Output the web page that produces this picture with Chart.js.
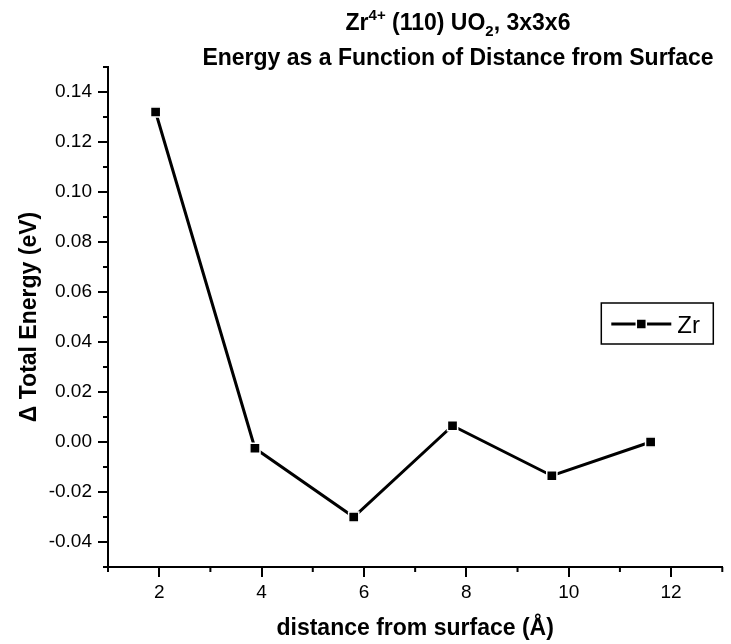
<!DOCTYPE html>
<html>
<head>
<meta charset="utf-8">
<title>Zr4+ (110) UO2 energy vs distance</title>
<script src="https://cdn.jsdelivr.net/npm/chart.js@4.4.1/dist/chart.umd.min.js"></script>
<style>
  html, body { margin: 0; padding: 0; background: #ffffff; }
  #wrap { width: 731px; height: 644px; }
</style>
</head>
<body>
<div id="wrap"><canvas id="energyChart" width="731" height="644"></canvas></div>
<script>
// data
const distances = [1.93, 3.87, 5.80, 7.73, 9.67, 11.60];
const energies = [0.132, -0.0025, -0.030, 0.0065, -0.0135, 0.0];
const seriesLabel = 'Zr';

// axis ticks
const xMajorTicks = [2, 4, 6, 8, 10, 12];
const xMinorTicks = [1, 3, 5, 7, 9, 11, 13];
const yMajorTicks = [-0.04, -0.02, 0.00, 0.02, 0.04, 0.06, 0.08, 0.10, 0.12, 0.14];
const yMinorTicks = [-0.05, -0.03, -0.01, 0.01, 0.03, 0.05, 0.07, 0.09, 0.11, 0.13, 0.15];

// titles (line 1 has a superscript and a subscript)
const titleLine1 = [['Zr', 'n'], ['4+', 'sup'], [' (110) UO', 'n'], ['2', 'sub'], [', 3x3x6', 'n']];
const titleLine2 = 'Energy as a Function of Distance from Surface';
const xTitle = 'distance from surface (\u00c5)';
const yTitle = '\u0394 Total Energy (eV)';

const FONT = "'Liberation Sans', Arial, sans-serif";

// minor ticks on both axes, shorter than the major ones
const minorTicksPlugin = {
  id: 'minorTicks',
  afterDraw(chart) {
    const { ctx, scales } = chart;
    ctx.save();
    ctx.strokeStyle = '#000';
    ctx.lineWidth = 2;
    ctx.beginPath();
    xMinorTicks.forEach(v => {
      const px = scales.x.getPixelForValue(v);
      ctx.moveTo(px, scales.x.top);
      ctx.lineTo(px, scales.x.top + 5);
    });
    yMinorTicks.forEach(v => {
      const py = scales.y.getPixelForValue(v);
      ctx.moveTo(scales.y.right, py);
      ctx.lineTo(scales.y.right - 5, py);
    });
    ctx.stroke();
    ctx.restore();
  }
};

// two-line title with sup/sub text
const titlePlugin = {
  id: 'richTitle',
  afterDraw(chart) {
    const ctx = chart.ctx;
    const cx = 458;
    ctx.save();
    ctx.fillStyle = '#000';
    ctx.textBaseline = 'alphabetic';

    const big = 'bold 23px ' + FONT;
    const small = 'bold 15px ' + FONT;
    let total = 0;
    titleLine1.forEach(([t, kind]) => {
      ctx.font = kind === 'n' ? big : small;
      total += ctx.measureText(t).width;
    });
    let x = cx - total / 2;
    titleLine1.forEach(([t, kind]) => {
      ctx.font = kind === 'n' ? big : small;
      let y = 30;
      if (kind === 'sup') y = 20;
      if (kind === 'sub') y = 36;
      ctx.textAlign = 'left';
      ctx.fillText(t, x, y);
      x += ctx.measureText(t).width;
    });

    ctx.font = big;
    ctx.textAlign = 'center';
    ctx.fillText(titleLine2, cx, 65);
    ctx.restore();
  }
};

// boxed legend inside the plot area
const legendPlugin = {
  id: 'boxLegend',
  afterDraw(chart) {
    const ctx = chart.ctx;
    const ds = chart.data.datasets[0];
    const right = chart.chartArea.right - 9;
    const left = right - 112;
    const top = 303;
    const h = 41;
    const midY = top + 21;
    ctx.save();
    ctx.strokeStyle = '#000';
    ctx.lineWidth = 1.5;
    ctx.strokeRect(left, top, right - left, h);

    ctx.lineWidth = ds.borderWidth;
    ctx.beginPath();
    ctx.moveTo(left + 10, midY);
    ctx.lineTo(left + 70, midY);
    ctx.stroke();

    ctx.fillStyle = '#000';
    ctx.strokeStyle = '#fff';
    ctx.lineWidth = 1.5;
    ctx.fillRect(left + 35, midY - 5, 10, 10);
    ctx.strokeRect(left + 35, midY - 5, 10, 10);

    ctx.fillStyle = '#000';
    ctx.font = '24px ' + FONT;
    ctx.textAlign = 'left';
    ctx.textBaseline = 'middle';
    ctx.fillText(ds.label, left + 76, midY + 2);
    ctx.restore();
  }
};

const ctx = document.getElementById('energyChart').getContext('2d');

new Chart(ctx, {
  type: 'line',
  data: {
    datasets: [{
      label: seriesLabel,
      data: distances.map((d, i) => ({ x: d, y: energies[i] })),
      borderColor: '#000',
      borderWidth: 3,
      tension: 0,
      pointStyle: 'rect',
      pointRadius: 7.2,
      pointBackgroundColor: '#000',
      pointBorderColor: '#fff',
      pointBorderWidth: 1.5,
      clip: false
    }]
  },
  options: {
    responsive: false,
    animation: false,
    layout: { padding: { top: 67, right: 8, left: 0, bottom: 0 } },
    plugins: {
      legend: { display: false },
      title: { display: false },
      tooltip: { enabled: false }
    },
    scales: {
      x: {
        type: 'linear',
        min: 1,
        max: 13,
        afterBuildTicks: s => { s.ticks = xMajorTicks.map(v => ({ value: v })); },
        afterFit: s => { s.height = 77; },
        ticks: {
          color: '#000',
          font: { family: FONT, size: 19 },
          padding: 4,
          maxRotation: 0,
          autoSkip: false
        },
        grid: {
          drawOnChartArea: false,
          drawTicks: true,
          tickLength: 10,
          color: '#000',
          lineWidth: 2
        },
        border: { color: '#000', width: 2 },
        title: {
          display: true,
          text: xTitle,
          color: '#000',
          font: { family: FONT, size: 23, weight: 'bold' },
          padding: { top: 2, bottom: 2 }
        }
      },
      y: {
        type: 'linear',
        min: -0.05,
        max: 0.15,
        afterBuildTicks: s => { s.ticks = yMajorTicks.map(v => ({ value: v })); },
        afterFit: s => { s.width = 108; },
        ticks: {
          color: '#000',
          font: { family: FONT, size: 19 },
          padding: 6,
          callback: v => Number(v).toFixed(2)
        },
        grid: {
          drawOnChartArea: false,
          drawTicks: true,
          tickLength: 10,
          color: '#000',
          lineWidth: 2
        },
        border: { color: '#000', width: 2 },
        title: {
          display: true,
          text: yTitle,
          color: '#000',
          font: { family: FONT, size: 23, weight: 'bold' },
          padding: { top: 16, bottom: 0 }
        }
      }
    }
  },
  plugins: [minorTicksPlugin, titlePlugin, legendPlugin]
});
</script>
</body>
</html>
